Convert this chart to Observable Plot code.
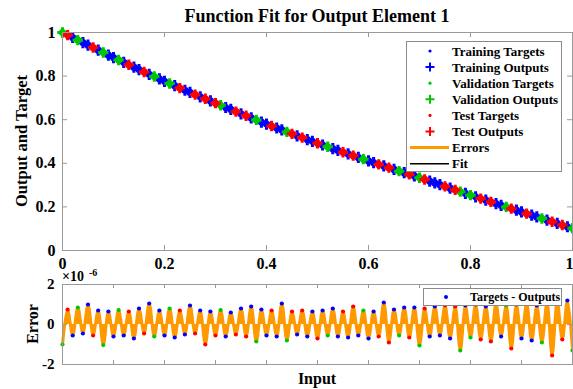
<!DOCTYPE html>
<html><head><meta charset="utf-8">
<script src="https://cdn.jsdelivr.net/npm/d3@7"></script>
<script src="https://cdn.jsdelivr.net/npm/@observablehq/plot@0.6"></script>
<style>
html,body{margin:0;padding:0;background:#fff;}
#wrap{position:relative;width:573px;height:389px;overflow:hidden;background:#fff;}
#wrap svg{position:absolute;left:0;}
</style></head><body><div id="wrap"></div>
<script>
// ---- data ----
const inputs = [0,0.01,0.02,0.03,0.04,0.05,0.06,0.07,0.08,0.09,0.10,0.11,0.12,0.13,0.14,0.15,0.16,0.17,0.18,0.19,0.20,0.21,0.22,0.23,0.24,0.25,0.26,0.27,0.28,0.29,0.30,0.31,0.32,0.33,0.34,0.35,0.36,0.37,0.38,0.39,0.40,0.41,0.42,0.43,0.44,0.45,0.46,0.47,0.48,0.49,0.50,0.51,0.52,0.53,0.54,0.55,0.56,0.57,0.58,0.59,0.60,0.61,0.62,0.63,0.64,0.65,0.66,0.67,0.68,0.69,0.70,0.71,0.72,0.73,0.74,0.75,0.76,0.77,0.78,0.79,0.80,0.81,0.82,0.83,0.84,0.85,0.86,0.87,0.88,0.89,0.90,0.91,0.92,0.93,0.94,0.95,0.96,0.97,0.98,0.99,1.00];
const targets = [1.000,0.988,0.977,0.965,0.954,0.942,0.931,0.919,0.908,0.896,0.885,0.874,0.863,0.852,0.841,0.830,0.819,0.808,0.798,0.787,0.776,0.766,0.756,0.745,0.735,0.725,0.715,0.705,0.696,0.686,0.676,0.666,0.656,0.647,0.637,0.627,0.618,0.608,0.599,0.589,0.580,0.571,0.562,0.553,0.544,0.535,0.526,0.518,0.509,0.501,0.492,0.484,0.476,0.467,0.459,0.451,0.443,0.435,0.427,0.419,0.411,0.403,0.395,0.388,0.380,0.372,0.364,0.357,0.349,0.342,0.334,0.326,0.318,0.310,0.302,0.294,0.286,0.278,0.270,0.262,0.254,0.246,0.238,0.231,0.223,0.215,0.207,0.200,0.192,0.185,0.177,0.169,0.162,0.154,0.147,0.139,0.132,0.124,0.117,0.109,0.102];
// errors in units of 1e-6 (Targets - Outputs)
const errors = [-1.00,0.75,-0.55,0.85,-0.45,1.00,-0.55,0.70,-1.03,0.65,-0.60,0.72,-0.55,0.65,-0.70,0.80,-0.45,1.05,-0.60,0.70,-0.55,0.80,-0.65,0.70,-0.50,0.95,-0.45,0.70,-1.00,0.65,-0.55,0.72,-0.60,0.60,-0.50,0.80,-0.60,0.90,-0.85,0.75,-0.55,0.70,-0.60,1.05,-0.80,0.65,-0.50,0.70,-0.60,0.65,-0.70,0.70,-0.55,0.80,-0.60,0.65,-0.65,0.90,-0.55,0.70,-0.70,0.65,-0.60,1.10,-0.90,0.75,-0.55,0.85,-0.65,0.85,-1.05,0.80,-0.60,0.90,-0.55,0.95,-0.70,0.90,-1.30,0.95,-0.65,1.00,-0.75,0.90,-0.85,1.05,-0.60,0.95,-1.20,1.00,-0.70,1.05,-0.80,0.95,-0.90,1.10,-1.55,1.15,-0.75,1.20,-1.30];
// T = training, V = validation, R = test
const groupCodes = ("VRTVTTRTVT" + "TVTRTTRTVT" + "TVTRTTRTRT" + "RVTTRTRTVT" + "TRTTVRTRTT" + "RTVTTRTRTV" + "TTRTRTVTRT" + "VRTTTRTRVT" + "VTRTRTTVRT" + "TRTTVTRTRT" + "V").split("");
const groupOrder = ["T","V","R"];
const groupColors = {T:"#0000ff", V:"#00c800", R:"#ff0000"};
const errorColor = "#ff9900";

const xTicks = [0,0.2,0.4,0.6,0.8,1];
const xTickLabels = ["0","0.2","0.4","0.6","0.8","1"];
const xMinorTicks = [0,0.1,0.2,0.3,0.4,0.5,0.6,0.7,0.8,0.9,1];
const yTicks = [0,0.2,0.4,0.6,0.8,1];
const yTickLabels = ["0","0.2","0.4","0.6","0.8","1"];
const errTicks = [-2,0,2];
const errTickLabels = ["-2","0","2"];

const titleText = "Function Fit for Output Element 1";
const yLabelText = "Output and Target";
const errLabelText = "Error";
const xLabelText = "Input";
const legendItems = [
  {label:"Training Targets", kind:"dot", color:groupColors.T},
  {label:"Training Outputs", kind:"plus", color:groupColors.T},
  {label:"Validation Targets", kind:"dot", color:groupColors.V},
  {label:"Validation Outputs", kind:"plus", color:groupColors.V},
  {label:"Test Targets", kind:"dot", color:groupColors.R},
  {label:"Test Outputs", kind:"plus", color:groupColors.R},
  {label:"Errors", kind:"line", color:errorColor},
  {label:"Fit", kind:"line", color:"#000"}
];
const errLegendText = "Targets - Outputs";

// ---- build ----
const samples = inputs.map((x,i) => ({
  x, target: targets[i], err: errors[i],
  output: targets[i] - errors[i]*1e-6, g: groupCodes[i]
}));
const font = "'Liberation Serif','Times New Roman',serif";
const axisGray = "#9a9a9a";
const plusOf = h => ({draw(ctx){ ctx.moveTo(-h,0); ctx.lineTo(h,0); ctx.moveTo(0,-h); ctx.lineTo(0,h); }});
const lastTick = xTicks[xTicks.length-1];

const topMarks = [
  Plot.line(samples, {x:"x", y:"output", stroke:"#000", strokeWidth:1}),
  Plot.ruleX(samples, {x:"x", y1:"target", y2:"output", stroke:errorColor})
];
for (const g of groupOrder) {
  const sub = samples.filter(d => d.g === g);
  topMarks.push(Plot.dot(sub, {x:"x", y:"target", r:3.6, fill:groupColors[g], stroke:"none"}));
  topMarks.push(Plot.dot(sub, {x:"x", y:"output", symbol: plusOf(g === "T" ? 5.6 : 5.2), fill:"none", stroke:groupColors[g], strokeWidth:3}));
}

const topPlot = Plot.plot({
  width:573, height:280, marginLeft:62, marginRight:1, marginTop:32, marginBottom:30,
  x:{domain:[0,1], axis:null}, y:{domain:[0,1], axis:null},
  style:{fontFamily:font, fontWeight:"bold", fontSize:"16px", color:"#000", background:"transparent", overflow:"visible"},
  marks:[
    ...topMarks,
    Plot.frame({stroke:axisGray}),
    Plot.tickX(xTicks, {x:d=>d, insetTop:213, stroke:axisGray}),
    Plot.tickX(xTicks, {x:d=>d, insetBottom:213, stroke:axisGray}),
    Plot.tickY(yTicks, {y:d=>d, insetRight:505, stroke:axisGray}),
    Plot.tickY(yTicks, {y:d=>d, insetLeft:505, stroke:axisGray}),
    Plot.text(xTicks.filter(t => t !== lastTick), {x:d=>d, text:d=>xTickLabels[xTicks.indexOf(d)], frameAnchor:"bottom", dy:18, fontSize:16, fontWeight:"bold", fill:"#000"}),
    Plot.text([lastTick], {x:d=>d, text:d=>xTickLabels[xTicks.indexOf(d)], frameAnchor:"bottom", dy:18, dx:-3, fontSize:16, fontWeight:"bold", fill:"#000"}),
    Plot.text(yTicks, {y:d=>d, text:d=>yTickLabels[yTicks.indexOf(d)], frameAnchor:"left", dx:-7, textAnchor:"end", fontSize:16, fontWeight:"bold", fill:"#000"})
  ]
});

// titles, legend (decoration)
{
  const s = d3.select(topPlot);
  s.append("text").attr("x",317).attr("y",22).attr("text-anchor","middle")
    .attr("font-family",font).attr("font-weight","bold").attr("font-size",18).attr("fill","#000").text(titleText);
  s.append("text").attr("transform","translate(27,141) rotate(-90)").attr("text-anchor","middle")
    .attr("font-family",font).attr("font-weight","bold").attr("font-size",16.5).attr("fill","#000").text(yLabelText);
  const g = s.append("g").attr("font-family", font).attr("font-weight","bold").attr("font-size", 13).attr("text-anchor","start");
  g.append("rect").attr("x",406.5).attr("y",41.5).attr("width",155).attr("height",130)
    .attr("fill","#fff").attr("stroke","#8a8a8a");
  legendItems.forEach((it,i) => {
    const y = 51 + i*16.1;
    if (it.kind === "dot") g.append("circle").attr("cx",430).attr("cy",y).attr("r",1.6).attr("fill",it.color);
    else if (it.kind === "plus") g.append("path").attr("d",`M425.5,${y}H434.5M430,${y-4.5}V${y+4.5}`).attr("stroke",it.color).attr("stroke-width",2);
    else g.append("line").attr("x1",410).attr("x2",449).attr("y1",y).attr("y2",y).attr("stroke",it.color).attr("stroke-width", it.label==="Errors"?3:1.5);
    g.append("text").attr("x",452).attr("y",y).attr("dy","0.35em").attr("text-anchor","start").attr("fill","#000").text(it.label);
  });
}

const botMarks = [
  Plot.areaY(samples, {x:"x", y:"err", curve:"catmull-rom", fill:errorColor}),
  Plot.line(samples, {x:"x", y:"err", curve:"catmull-rom", stroke:errorColor, strokeWidth:3})
];
for (const g of groupOrder) {
  botMarks.push(Plot.dot(samples.filter(d => d.g === g), {x:"x", y:"err", r:2.1, fill:groupColors[g], stroke:"none"}));
}

const botPlot = Plot.plot({
  width:573, height:119, marginLeft:62, marginRight:1, marginTop:14, marginBottom:25,
  x:{domain:[0,1], axis:null}, y:{domain:[-2,2], axis:null},
  style:{fontFamily:font, fontWeight:"bold", fontSize:"15px", color:"#000", background:"transparent", overflow:"visible"},
  marks:[
    ...botMarks,
    Plot.frame({stroke:axisGray}),
    Plot.tickX(xMinorTicks, {x:d=>d, insetTop:76, stroke:axisGray}),
    Plot.tickX(xMinorTicks, {x:d=>d, insetBottom:76, stroke:axisGray}),
    Plot.tickY(errTicks, {y:d=>d, insetRight:505, stroke:axisGray}),
    Plot.tickY(errTicks, {y:d=>d, insetLeft:505, stroke:axisGray}),
    Plot.text(errTicks, {y:d=>d, text:d=>errTickLabels[errTicks.indexOf(d)], frameAnchor:"left", dx:-8, textAnchor:"end", fontSize:15, fontWeight:"bold", fill:"#000"})
  ]
});

{
  const s = d3.select(botPlot);
  const t = (x,y,txt,size,anchor) => s.append("text").attr("x",x).attr("y",y).attr("text-anchor",anchor)
    .attr("font-family",font).attr("font-weight","bold").attr("font-size",size).attr("fill","#000").text(txt);
  s.append("text").attr("transform","translate(38,54) rotate(-90)").attr("text-anchor","middle")
    .attr("font-family",font).attr("font-weight","bold").attr("font-size",16).attr("fill","#000").text(errLabelText);
  t(317, 114, xLabelText, 16, "middle");
  t(62, 11, "×10", 14, "start");
  t(89, 6, "-6", 10, "start");
  const g = s.append("g").attr("font-family", font).attr("font-weight","bold").attr("font-size", 12).attr("text-anchor","start");
  g.append("rect").attr("x",423.5).attr("y",18.5).attr("width",138).attr("height",17)
    .attr("fill","#fff").attr("stroke","#8a8a8a");
  g.append("circle").attr("cx",446).attr("cy",27).attr("r",2).attr("fill",groupColors.T);
  g.append("text").attr("x",470).attr("y",27).attr("dy","0.35em").attr("text-anchor","start").attr("fill","#000").text(errLegendText);
}

const wrap = document.getElementById("wrap");
topPlot.style.top = "0px";
botPlot.style.top = "270px";
wrap.appendChild(topPlot);
wrap.appendChild(botPlot);
</script>
</body></html>
